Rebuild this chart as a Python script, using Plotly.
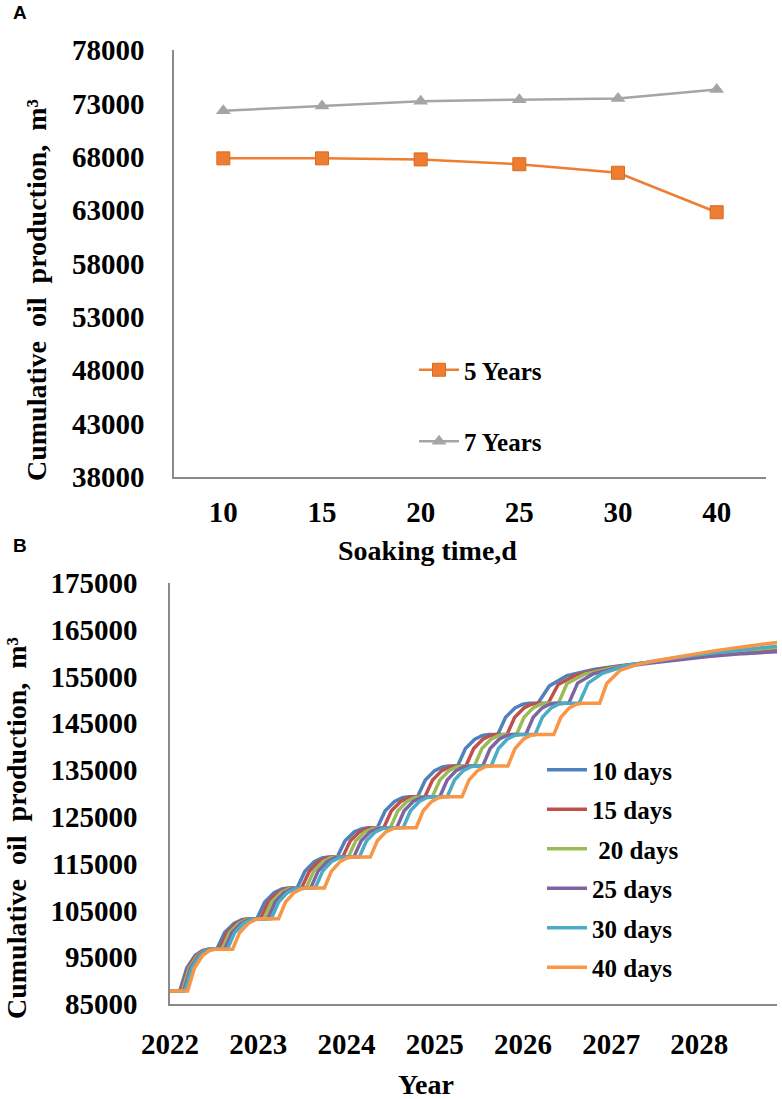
import plotly.graph_objects as go

W, H = 782, 1099

# ---------------- Panel A data ----------------
soak_categories = ["10", "15", "20", "25", "30", "40"]
five_years = [67850, 67850, 67750, 67300, 66500, 62800]
seven_years = [72300, 72750, 73200, 73350, 73450, 74300]
a_yticks = [38000, 43000, 48000, 53000, 58000, 63000, 68000, 73000, 78000]

# ---------------- Panel B data ----------------
series_names = ["10 days", "15 days", " 20 days", "25 days", "30 days", "40 days"]
series_colors = ["#4F81BD", "#C0504D", "#9BBB59", "#8064A2", "#4BACC6", "#F79646"]
b_year_ticks = [2022, 2023, 2024, 2025, 2026, 2027, 2028]
b_yticks = [85000, 95000, 105000, 115000, 125000, 135000, 145000, 155000, 165000, 175000]

# cumulative production read along each huff-and-puff cycle (plateau / rise), shared by all soaking times
cycle_values = [87800, 87800, 92700, 95400, 96400,
                96700, 96700, 100300, 102200, 103000,
                103200, 103200, 106800, 108800, 109600,
                109800, 109800, 113400, 115400, 116200,
                116400, 116400, 119900, 121800, 122500,
                122700, 122700, 126300, 128300, 129100,
                129300, 129300, 132900, 134900, 135700,
                135900, 135900, 139600, 141600, 142400,
                142600, 142600, 146300, 148300, 149100,
                149300, 149300]

years_10 = [2022.000, 2022.110, 2022.190, 2022.286, 2022.366,
            2022.430, 2022.530, 2022.619, 2022.725, 2022.814,
            2022.885, 2022.985, 2023.074, 2023.180, 2023.269,
            2023.340, 2023.440, 2023.529, 2023.635, 2023.724,
            2023.795, 2023.895, 2023.984, 2024.090, 2024.179,
            2024.250, 2024.350, 2024.439, 2024.545, 2024.634,
            2024.705, 2024.805, 2024.894, 2025.000, 2025.089,
            2025.160, 2025.260, 2025.349, 2025.455, 2025.544,
            2025.615, 2025.715, 2025.804, 2025.910, 2025.999,
            2026.070, 2026.170,
            2026.30, 2026.50, 2026.80, 2027.10, 2027.50, 2028.00, 2028.50, 2028.88]
tail_10 = [153000, 155200, 156500, 157300, 158200, 159300, 160100, 160700]

years_15 = [2022.000, 2022.125, 2022.205, 2022.300, 2022.379,
            2022.443, 2022.560, 2022.647, 2022.752, 2022.839,
            2022.909, 2023.026, 2023.113, 2023.218, 2023.305,
            2023.375, 2023.491, 2023.579, 2023.683, 2023.770,
            2023.840, 2023.957, 2024.044, 2024.149, 2024.236,
            2024.306, 2024.423, 2024.510, 2024.615, 2024.702,
            2024.772, 2024.889, 2024.976, 2025.081, 2025.168,
            2025.238, 2025.354, 2025.442, 2025.546, 2025.633,
            2025.704, 2025.820, 2025.907, 2026.012, 2026.099,
            2026.169, 2026.286,
            2026.40, 2026.60, 2026.90, 2027.20, 2027.50, 2028.00, 2028.50, 2028.88]
tail_15 = [153300, 155300, 156600, 157500, 158200, 159400, 160300, 160900]

years_20 = [2022.000, 2022.140, 2022.219, 2022.314, 2022.394,
            2022.457, 2022.590, 2022.676, 2022.779, 2022.865,
            2022.934, 2023.067, 2023.153, 2023.256, 2023.342,
            2023.410, 2023.543, 2023.629, 2023.732, 2023.818,
            2023.887, 2024.020, 2024.106, 2024.209, 2024.295,
            2024.364, 2024.497, 2024.583, 2024.686, 2024.772,
            2024.840, 2024.973, 2025.059, 2025.162, 2025.248,
            2025.317, 2025.450, 2025.536, 2025.639, 2025.725,
            2025.794, 2025.927, 2026.013, 2026.116, 2026.202,
            2026.270, 2026.403,
            2026.50, 2026.70, 2027.00, 2027.30, 2027.60, 2028.10, 2028.50, 2028.88]
tail_20 = [153500, 155500, 156800, 157700, 158500, 159700, 160600, 161200]

years_25 = [2022.000, 2022.155, 2022.234, 2022.328, 2022.407,
            2022.470, 2022.620, 2022.704, 2022.806, 2022.890,
            2022.958, 2023.108, 2023.192, 2023.293, 2023.378,
            2023.445, 2023.595, 2023.679, 2023.781, 2023.865,
            2023.933, 2024.083, 2024.167, 2024.268, 2024.353,
            2024.420, 2024.570, 2024.654, 2024.756, 2024.840,
            2024.908, 2025.058, 2025.142, 2025.243, 2025.328,
            2025.395, 2025.545, 2025.629, 2025.731, 2025.815,
            2025.883, 2026.033, 2026.117, 2026.218, 2026.303,
            2026.370, 2026.520,
            2026.62, 2026.80, 2027.10, 2027.40, 2027.70, 2028.10, 2028.50, 2028.88]
tail_25 = [153600, 155600, 157000, 157800, 158500, 159300, 159900, 160300]

years_30 = [2022.000, 2022.170, 2022.248, 2022.342, 2022.420,
            2022.483, 2022.650, 2022.733, 2022.832, 2022.915,
            2022.981, 2023.148, 2023.231, 2023.330, 2023.413,
            2023.480, 2023.647, 2023.730, 2023.829, 2023.912,
            2023.978, 2024.145, 2024.228, 2024.327, 2024.410,
            2024.476, 2024.643, 2024.726, 2024.825, 2024.908,
            2024.975, 2025.142, 2025.225, 2025.324, 2025.407,
            2025.473, 2025.640, 2025.723, 2025.822, 2025.905,
            2025.971, 2026.138, 2026.221, 2026.320, 2026.403,
            2026.470, 2026.637,
            2026.74, 2026.90, 2027.15, 2027.40, 2027.70, 2028.10, 2028.50, 2028.88]
tail_30 = [153600, 155700, 157200, 158000, 158900, 159900, 160800, 161500]

years_40 = [2022.000, 2022.200, 2022.278, 2022.371, 2022.448,
            2022.510, 2022.710, 2022.790, 2022.886, 2022.966,
            2023.030, 2023.230, 2023.310, 2023.406, 2023.486,
            2023.550, 2023.750, 2023.830, 2023.926, 2024.006,
            2024.070, 2024.270, 2024.350, 2024.446, 2024.526,
            2024.590, 2024.790, 2024.870, 2024.966, 2025.046,
            2025.110, 2025.310, 2025.390, 2025.486, 2025.566,
            2025.630, 2025.830, 2025.910, 2026.006, 2026.086,
            2026.150, 2026.350, 2026.430, 2026.526, 2026.606,
            2026.670, 2026.870,
            2026.95, 2027.10, 2027.30, 2027.50, 2027.80, 2028.20, 2028.55, 2028.88]
tail_40 = [153500, 156300, 157600, 158400, 159400, 160600, 161500, 162300]

series_years = [years_10, years_15, years_20, years_25, years_30, years_40]
series_tails = [tail_10, tail_15, tail_20, tail_25, tail_30, tail_40]

# ---------------- helpers (pixel -> paper) ----------------
def px(x):
    return x / W

def py(y):
    return 1 - y / H

SERIF = "Liberation Serif"
AXIS_GRAY = "#8a8a8a"

fig = go.Figure()

# Panel A traces
fig.add_trace(go.Scatter(
    x=soak_categories, y=five_years, name="5 Years", mode="lines+markers",
    line=dict(color="#ED7D31", width=2.5),
    marker=dict(symbol="square", size=13, color="#ED7D31", line=dict(color="#D86A22", width=1)),
    xaxis="x", yaxis="y", legend="legend", legendgroup="a5"))
fig.add_trace(go.Scatter(
    x=soak_categories, y=seven_years, name="7 Years", mode="lines+markers",
    line=dict(color="#A5A5A5", width=2.5),
    marker=dict(symbol="triangle-up", size=13, color="#A5A5A5"),
    xaxis="x", yaxis="y", legend="legend", legendgroup="a7"))

# Panel B traces
for name, color, yrs, tail in zip(series_names, series_colors, series_years, series_tails):
    fig.add_trace(go.Scatter(
        x=yrs, y=cycle_values + tail, name=name, mode="lines",
        line=dict(color=color, width=3.5),
        xaxis="x2", yaxis="y2", legend="legend2", legendgroup=name))

tickfont = dict(family=SERIF, size=29, color="black", weight="bold")
common_axis = dict(showgrid=False, zeroline=False, showline=True, linecolor=AXIS_GRAY,
                   linewidth=1.5, ticks="", tickfont=tickfont, automargin=False)
legend_font = dict(family=SERIF, size=25, color="black", weight="bold")
title_font = dict(family=SERIF, size=28, color="black", weight="bold")

fig.update_layout(
    width=W, height=H,
    margin=dict(l=0, r=0, t=0, b=0, pad=0, autoexpand=False),
    paper_bgcolor="white", plot_bgcolor="white",
    showlegend=True,
    xaxis=dict(domain=[px(174), px(766)], anchor="y", type="category",
               range=[-0.5, 5.5], ticklabelstandoff=8, **common_axis),
    yaxis=dict(domain=[py(477), py(50)], anchor="x", range=[38000, 78000],
               tickvals=a_yticks, tickformat="d", ticklabelstandoff=22, **common_axis),
    xaxis2=dict(domain=[px(170), px(777)], anchor="y2", range=[2022, 2028.88],
                tickvals=b_year_ticks, tickformat="d", ticklabelstandoff=13, **common_axis),
    yaxis2=dict(domain=[py(1004), py(583)], anchor="x2", range=[85000, 175000],
                tickvals=b_yticks, tickformat="d", ticklabelstandoff=25, **common_axis),
    legend=dict(x=px(414), y=py(347), xanchor="left", yanchor="top",
                bgcolor="rgba(0,0,0,0)", traceorder="grouped", tracegroupgap=36,
                itemwidth=40, font=legend_font),
    legend2=dict(x=px(542), y=py(747), xanchor="left", yanchor="top",
                 bgcolor="rgba(0,0,0,0)", traceorder="grouped", tracegroupgap=4,
                 itemwidth=40, font=legend_font),
)

ytitle = "Cumulative\u00a0\u00a0oil\u00a0\u00a0production,\u00a0\u00a0m\u00b3"
annotations = [
    dict(text="A", x=px(11), y=py(0), xanchor="left", yanchor="top",
         font=dict(family="Liberation Sans", size=19, color="black", weight="bold")),
    dict(text="B", x=px(11), y=py(533), xanchor="left", yanchor="top",
         font=dict(family="Liberation Sans", size=19, color="black", weight="bold")),
    dict(text="Soaking time,d", x=px(427), y=py(550), xanchor="center", yanchor="middle",
         font=title_font),
    dict(text="Year", x=px(426), y=py(1084), xanchor="center", yanchor="middle",
         font=title_font),
    dict(text=ytitle, x=px(36), y=py(290), xanchor="center", yanchor="middle",
         textangle=-90, font=title_font),
    dict(text=ytitle, x=px(16), y=py(828), xanchor="center", yanchor="middle",
         textangle=-90, font=title_font),
]
for a in annotations:
    a.update(xref="paper", yref="paper", showarrow=False)
fig.update_layout(annotations=annotations)

fig.write_html("out.html", config={"displayModeBar": False},
               post_script="document.body.style.margin='0px';")
